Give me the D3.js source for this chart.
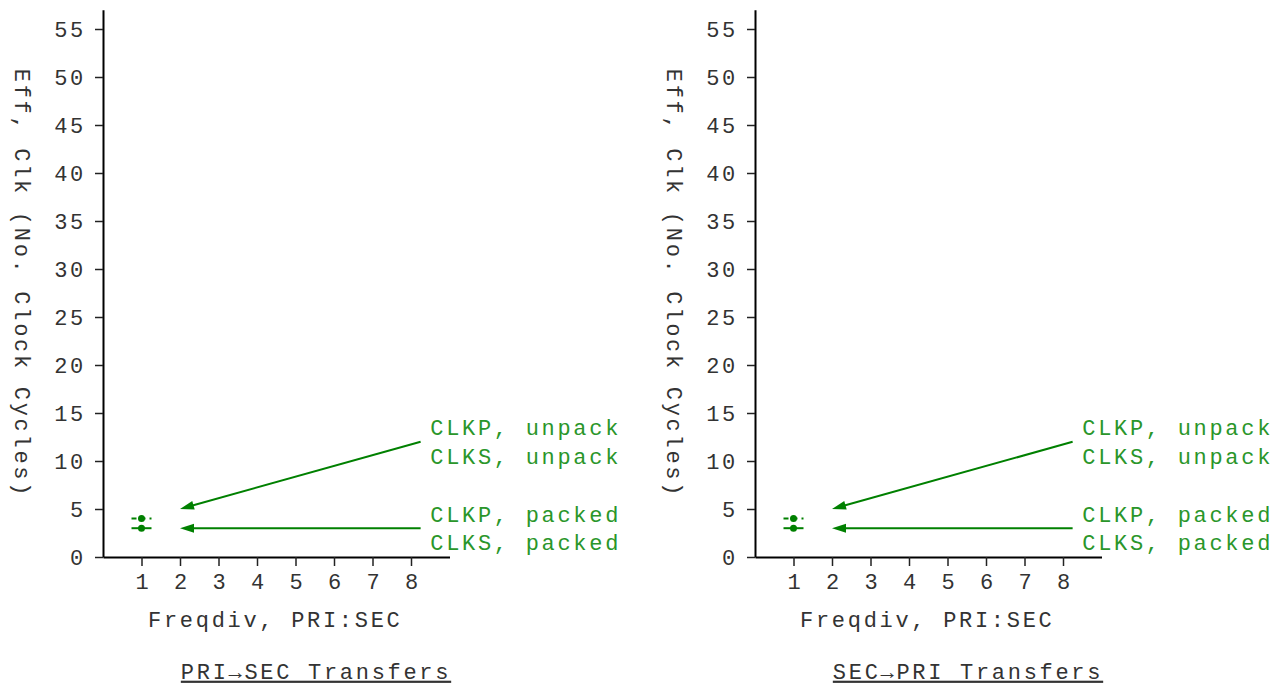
<!DOCTYPE html>
<html>
<head>
<meta charset="utf-8">
<script src="https://cdn.jsdelivr.net/npm/d3@7"></script>
<style>
  body { margin: 0; background: #fff; }
  svg text { font-family: "Courier New", "Liberation Mono", monospace; font-size: 22px; letter-spacing: 2.7px; }
</style>
</head>
<body>
<svg id="chart" width="1288" height="686"></svg>
<script>
// Data
const freqdiv = [1];
const unpackClk = [4];   // CLKP / CLKS, unpack
const packedClk = [3];   // CLKP / CLKS, packed
const xTicks = [1, 2, 3, 4, 5, 6, 7, 8];
const yTicks = [0, 5, 10, 15, 20, 25, 30, 35, 40, 45, 50, 55];
const panelTitles = ["PRI\u2192SEC Transfers", "SEC\u2192PRI Transfers"];
const noteLabels = ["CLKP, unpack", "CLKS, unpack", "CLKP, packed", "CLKS, packed"];
const noteAnchorY = [12, 3];          // label group centres (data units)
const arrowTarget = [[2, 5], [2, 3]]; // arrow tips (data units)

const svg = d3.select("#chart");
const green = "#008000", textGreen = "#2a962a", ink = "#333";

function drawPanel(offset, title) {
    const g = svg.append("g").attr("transform", `translate(${offset},0)`);

    const x = d3.scaleLinear().domain([0, 9]).range([103, 103 + 9 * 38.5]);
    const y = d3.scaleLinear().domain([0, 57]).range([557, 557 - 57 * 9.6]);

    // axes
    const xAxis = g.append("g")
        .attr("transform", `translate(0,${y(0)})`)
        .call(d3.axisBottom(x).tickValues(xTicks).tickSize(9).tickPadding(7).tickSizeOuter(0));
    const yAxis = g.append("g")
        .attr("transform", `translate(${x(0)},0)`)
        .call(d3.axisLeft(y).tickValues(yTicks).tickSize(8).tickPadding(9).tickSizeOuter(0));
    [xAxis, yAxis].forEach(a => {
        a.attr("font-family", null).attr("font-size", null);
        a.select(".domain").attr("stroke", "#000").attr("stroke-width", 2);
        a.selectAll(".tick line").attr("stroke", "#222").attr("stroke-width", 1.5);
        a.selectAll(".tick text").attr("fill", ink);
    });
    xAxis.selectAll(".tick text").attr("dx", "1.4px");

    // axis titles
    g.append("text")
        .attr("x", (x.range()[0] + x.range()[1]) / 2 - 1)
        .attr("y", 619).attr("dy", "0.35em")
        .attr("text-anchor", "middle")
        .attr("fill", ink)
        .text("Freqdiv, PRI:SEC");

    g.append("text")
        .attr("transform", `translate(23,${(y(0) + y(57)) / 2}) rotate(90)`)
        .attr("text-anchor", "middle")
        .attr("dy", "0.35em")
        .attr("fill", ink)
        .text("Eff, Clk (No. Clock Cycles)");

    // panel title
    g.append("text")
        .attr("x", 316).attr("y", 671).attr("dy", "0.35em")
        .attr("text-anchor", "middle")
        .attr("fill", ink)
        .style("text-decoration", "underline")
        .text(title);

    // series
    const series = [
        { values: unpackClk, dash: "5,4" },
        { values: packedClk, dash: null }
    ];
    series.forEach(s => {
        const pts = freqdiv.map((f, i) => [x(f), y(s.values[i])]);
        g.selectAll(null).data(pts).enter().append("line")
            .attr("x1", d => d[0] - 10).attr("x2", d => d[0] + 10)
            .attr("y1", d => d[1]).attr("y2", d => d[1])
            .attr("stroke", green).attr("stroke-width", 2)
            .attr("stroke-dasharray", s.dash);
        g.selectAll(null).data(pts).enter().append("circle")
            .attr("cx", d => d[0]).attr("cy", d => d[1]).attr("r", 3.5)
            .attr("fill", green);
    });

    // annotations
    noteAnchorY.forEach((v, i) => {
        const tx = x(arrowTarget[i][0]), ty = y(arrowTarget[i][1]);
        const fx = x(8.25), fy = y(v);
        const ang = Math.atan2(fy - ty, fx - tx);
        g.append("line")
            .attr("x1", fx).attr("y1", fy)
            .attr("x2", tx + 12 * Math.cos(ang)).attr("y2", ty + 12 * Math.sin(ang))
            .attr("stroke", green).attr("stroke-width", 2);
        g.append("path")
            .attr("d", "M0,0 L14,-4.5 L14,4.5 Z")
            .attr("transform", `translate(${tx},${ty}) rotate(${ang * 180 / Math.PI})`)
            .attr("fill", green);
        [noteLabels[2 * i], noteLabels[2 * i + 1]].forEach((t, j) => {
            g.append("text")
                .attr("x", x(8.5)).attr("y", y(v + (j === 0 ? 1.5 : -1.5)))
                .attr("dy", "0.35em")
                .attr("fill", textGreen)
                .text(t);
        });
    });
}

panelTitles.forEach((t, i) => drawPanel(i * 652, t));
</script>
</body>
</html>
